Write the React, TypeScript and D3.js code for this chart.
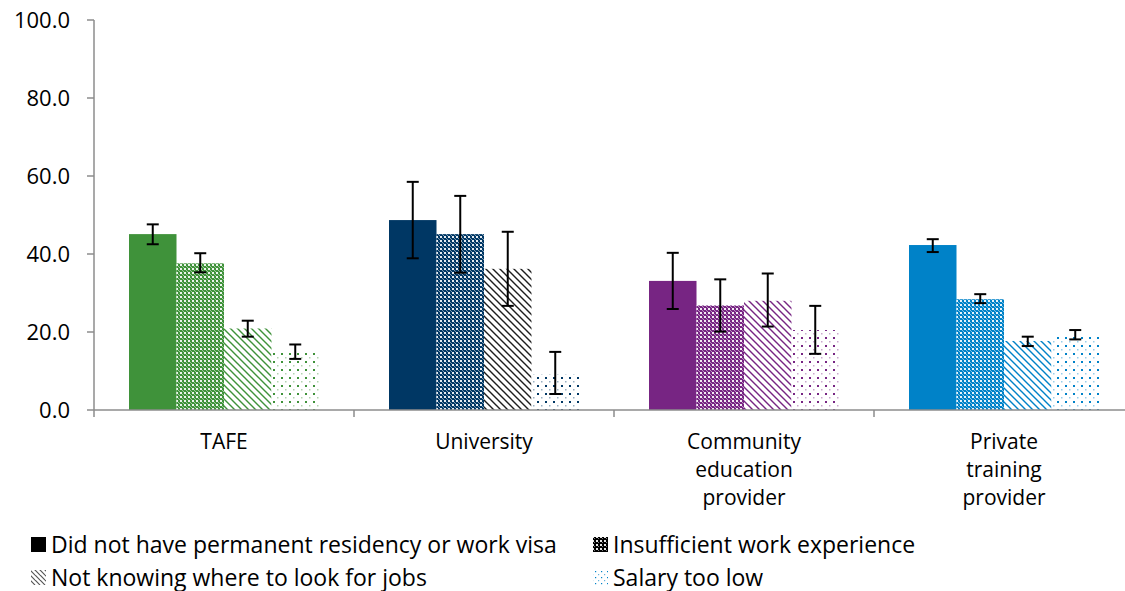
import React from "react";
import * as d3 from "d3";

const categories = ["TAFE", "University", "Community education provider", "Private training provider"];
const categoryLines = [["TAFE"], ["University"], ["Community", "education", "provider"], ["Private", "training", "provider"]];
const seriesNames = [
  "Did not have permanent residency or work visa",
  "Insufficient work experience",
  "Not knowing where to look for jobs",
  "Salary too low",
];
const categoryColors = ["#3f923a", "#003764", "#772583", "#0082c8"];
const stripeColors = ["#3f923a", "#1e1e1e", "#772583", "#0082c8"];

// values per category, one per series
const values = [
  [45.1, 37.6, 20.9, 15.0],
  [48.7, 45.1, 36.2, 9.2],
  [33.1, 26.8, 28.0, 20.5],
  [42.3, 28.4, 17.7, 19.2],
];
const errLow = [
  [42.5, 35.3, 18.8, 13.1],
  [38.9, 35.2, 26.7, 4.1],
  [25.9, 20.1, 21.4, 14.4],
  [40.5, 27.4, 16.4, 18.1],
];
const errHigh = [
  [47.6, 40.2, 22.9, 16.8],
  [58.5, 54.9, 45.7, 14.9],
  [40.3, 33.5, 35.0, 26.7],
  [43.8, 29.7, 18.8, 20.5],
];
const yTicks = [0, 20, 40, 60, 80, 100];

const width = 1125;
const height = 591;
const left = 94;
const groupW = 260;
const top = 20;
const bottom = 410;
const font = "'Open Sans', sans-serif";

export default function App() {
  const x0 = d3.scaleBand<string>().domain(categories).range([left, left + groupW * categories.length]);
  const x1 = d3
    .scaleBand<number>()
    .domain([0, 1, 2, 3])
    .range([0, groupW])
    .paddingInner(0)
    .paddingOuter(0.737);
  const y = d3.scaleLinear().domain([0, 100]).range([bottom, top]);

  const fillFor = (ci: number, si: number) =>
    si === 0 ? categoryColors[ci] : `url(#p${si}-${ci})`;

  return (
    <svg width={width} height={height} style={{ position: "absolute", left: 0, top: 0, background: "#fff" }}>
      <defs>
        {categoryColors.map((c, ci) => (
          <React.Fragment key={ci}>
            <pattern id={`p1-${ci}`} width={4} height={4} patternUnits="userSpaceOnUse">
              <rect width={4} height={4} fill={c} />
              <rect x={0} y={0} width={2} height={2} fill="#fff" opacity={0.9} />
              <rect x={2} y={2} width={1} height={1} fill="#fff" opacity={0.5} />
              <rect x={3} y={3} width={1} height={1} fill="#fff" opacity={0.5} />
            </pattern>
            <pattern id={`p2-${ci}`} width={7} height={7} patternUnits="userSpaceOnUse">
              <rect width={7} height={7} fill="#fff" />
              <path d="M-2,-2 L9,9 M-6,1 L1,8 M6,-1 L8,1" stroke={stripeColors[ci]} strokeWidth={1.4} />
            </pattern>
            <pattern id={`p3-${ci}`} width={8} height={8} patternUnits="userSpaceOnUse">
              <rect width={8} height={8} fill="#fff" />
              <rect x={1} y={1} width={2} height={2} fill={c} />
              <rect x={5} y={5} width={1.5} height={1.5} fill={c} opacity={0.4} />
            </pattern>
          </React.Fragment>
        ))}
        <pattern id="lg1" width={4} height={4} patternUnits="userSpaceOnUse">
          <rect width={4} height={4} fill="#000" />
          <rect x={0} y={0} width={2} height={2} fill="#fff" opacity={0.9} />
          <rect x={2} y={2} width={1} height={1} fill="#fff" opacity={0.5} />
        </pattern>
        <pattern id="lg2" width={5} height={5} patternUnits="userSpaceOnUse">
          <rect width={5} height={5} fill="#fff" />
          <path d="M-1,-1 L6,6 M-3,2 L0,5 M2,-3 L6,1" stroke="#555" strokeWidth={1.2} />
        </pattern>
        <pattern id="lg3" width={6} height={6} patternUnits="userSpaceOnUse">
          <rect width={6} height={6} fill="#fff" />
          <rect x={1} y={1} width={1.2} height={1.2} fill="#0082c8" />
          <rect x={4} y={4} width={1.2} height={1.2} fill="#0082c8" opacity={0.6} />
        </pattern>
      </defs>

      {/* bars */}
      {categories.map((cat, ci) =>
        values[ci].map((v, si) => (
          <rect
            key={`${ci}-${si}`}
            x={(x0(cat) ?? 0) + (x1(si) ?? 0)}
            y={y(v)}
            width={x1.bandwidth()}
            height={y(0) - y(v)}
            fill={fillFor(ci, si)}
          />
        ))
      )}

      {/* error bars */}
      {categories.map((cat, ci) =>
        values[ci].map((_, si) => {
          const cx = (x0(cat) ?? 0) + (x1(si) ?? 0) + x1.bandwidth() / 2;
          const y1 = y(errHigh[ci][si]);
          const y2 = y(errLow[ci][si]);
          return (
            <g key={`e${ci}-${si}`} stroke="#000" strokeWidth={2}>
              <line x1={cx} x2={cx} y1={y1} y2={y2} />
              <line x1={cx - 6} x2={cx + 6} y1={y1} y2={y1} />
              <line x1={cx - 6} x2={cx + 6} y1={y2} y2={y2} />
            </g>
          );
        })
      )}

      {/* axes */}
      <g stroke="#8c8c8c" strokeWidth={1.5}>
        <line x1={left} x2={left} y1={top} y2={bottom} />
        {yTicks.map((t) => (
          <line key={t} x1={left - 7} x2={left} y1={y(t)} y2={y(t)} />
        ))}
        <line x1={left} x2={left + groupW * 4} y1={bottom} y2={bottom} />
        {d3.range(categories.length + 1).map((i) => (
          <line key={i} x1={left + i * groupW} x2={left + i * groupW} y1={bottom} y2={bottom + 7} />
        ))}
      </g>
      {yTicks.map((t) => (
        <text
          key={t}
          x={70}
          y={y(t) + 7.5}
          textAnchor="end"
          fontFamily={font}
          fontSize={22}
          fill="#000"
        >
          {t.toFixed(1)}
        </text>
      ))}

      {/* category labels */}
      {categories.map((cat, ci) => (
        <text
          key={cat}
          x={(x0(cat) ?? 0) + x0.bandwidth() / 2}
          textAnchor="middle"
          fontFamily={font}
          fontSize={21}
          fill="#000"
        >
          {categoryLines[ci].map((ln, li) => (
            <tspan key={li} x={(x0(cat) ?? 0) + x0.bandwidth() / 2} y={449 + li * 28}>
              {ln}
            </tspan>
          ))}
        </text>
      ))}

      {/* legend */}
      {seriesNames.map((name, si) => {
        const lx = si % 2 === 0 ? 31 : 593;
        const ly = si < 2 ? 545 : 578;
        const fill = si === 0 ? "#000" : `url(#lg${si})`;
        return (
          <g key={name}>
            <rect x={lx} y={ly - 8} width={15} height={15} fill={fill} />
            <text x={lx + 20} y={ly + 7.5} fontFamily={font} fontSize={23} fill="#000">
              {name}
            </text>
          </g>
        );
      })}
    </svg>
  );
}
